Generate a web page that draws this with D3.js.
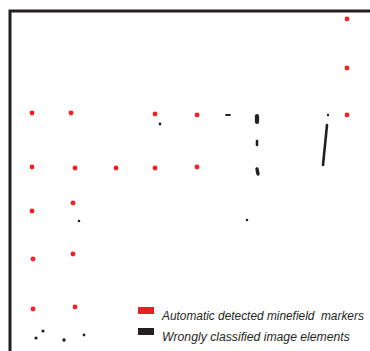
<!DOCTYPE html>
<html><head><meta charset="utf-8">
<script src="https://cdn.jsdelivr.net/npm/d3@7"></script>
<style>
html,body{margin:0;padding:0;background:#fff;}
svg{display:block;}
</style></head>
<body>
<script>
// Field coordinates (units across / down the image frame)
const markerX = [337, 337, 22, 61, 145, 187, 337, 22, 65, 106, 145, 187, 22, 63, 23, 63, 23, 65];
const markerY = [8, 57, 102, 102, 103, 104, 104, 156, 157, 157, 157, 156, 200, 192, 248, 243, 298, 296];

// Wrongly classified elements as segments (start -> end)
const wrongX1 = [216, 247, 247, 247, 150, 318, 317, 69, 237, 26, 33, 54, 74];
const wrongY1 = [104, 105, 130, 158, 113, 104, 114, 210, 209, 327, 320, 329, 324];
const wrongX2 = [220, 247, 247, 248, 150, 318, 313, 69, 237, 26, 33, 54, 74];
const wrongY2 = [104, 111, 134, 163, 113, 104, 154, 210, 209, 327, 320, 329, 324];

const legendLabels = ["Automatic detected minefield  markers", "Wrongly classified image elements"];
const legendColors = ["#ee1c25", "#231f20"];

const W = 370, H = 351;
const svg = d3.select("body").append("svg").attr("width", W).attr("height", H);

const defs = svg.append("defs");
defs.append("filter").attr("id", "soft").attr("x", "-50%").attr("y", "-50%").attr("width", "200%").attr("height", "200%")
  .append("feGaussianBlur").attr("stdDeviation", 0.75);

const x = d3.scaleLinear().domain([0, 360]).range([10, 370]);
const y = d3.scaleLinear().domain([0, 340]).range([11, 351]);

// frame
svg.append("path")
  .attr("d", `M${x(0)},${H + 2} L${x(0)},${y(0)} L${W + 2},${y(0)}`)
  .attr("fill", "none").attr("stroke", "#231f20").attr("stroke-width", 3);

// markers
const markers = markerX.map((v, i) => ({x: v, y: markerY[i]}));
svg.append("g").attr("filter", "url(#soft)")
  .selectAll("circle").data(markers).join("circle")
  .attr("cx", d => x(d.x)).attr("cy", d => y(d.y)).attr("r", 2.4)
  .attr("fill", "#ff1a1a");

// wrong elements
const wrong = wrongX1.map((v, i) => ({x1: v, y1: wrongY1[i], x2: wrongX2[i], y2: wrongY2[i]}));
svg.append("g").attr("filter", "url(#soft)")
  .selectAll("line").data(wrong).join("line")
  .attr("x1", d => x(d.x1)).attr("y1", d => y(d.y1))
  .attr("x2", d => x(d.x2)).attr("y2", d => y(d.y2))
  .attr("stroke", "#222").attr("stroke-width", (d, i) => [1.8, 4.2, 2.6, 3.4, 2.8, 2.4, 2.6, 2.6, 2.6, 3.2, 3.2, 3.4, 2.8][i])
  .attr("stroke-linecap", "round");

// legend
const lg = svg.append("g").attr("transform", "translate(138,307)");
const items = lg.selectAll("g").data(legendLabels).join("g")
  .attr("transform", (d, i) => `translate(0,${i * 21})`);
items.append("rect").attr("width", 16).attr("height", 7).attr("fill", (d, i) => legendColors[i]);
const targetW = [202, 188];
items.append("text")
  .attr("font-family", "'Liberation Sans', Arial, sans-serif")
  .attr("font-style", "italic").attr("font-size", 13.5).attr("fill", "#231f20")
  .style("white-space", "pre")
  .text(d => d)
  .each(function(d, i) {
    const nat = this.getComputedTextLength();
    const s = targetW[i] / nat;
    d3.select(this).attr("transform", `translate(24,12.5) scale(${s},1)`);
  });
</script>
</body></html>
